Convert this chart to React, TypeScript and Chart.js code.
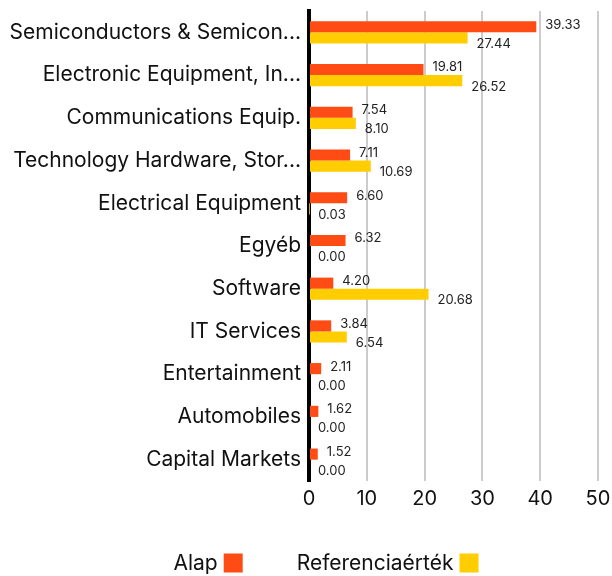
import React, { useEffect, useRef } from "react";
import { Chart, registerables } from "chart.js";

Chart.register(...registerables);

const categories = [
  "Semiconductors & Semicon...",
  "Electronic Equipment, In...",
  "Communications Equip.",
  "Technology Hardware, Stor...",
  "Electrical Equipment",
  "Egyéb",
  "Software",
  "IT Services",
  "Entertainment",
  "Automobiles",
  "Capital Markets",
];
const alapValues = [39.33, 19.81, 7.54, 7.11, 6.6, 6.32, 4.2, 3.84, 2.11, 1.62, 1.52];
const refValues = [27.44, 26.52, 8.1, 10.69, 0.03, 0.0, 20.68, 6.54, 0.0, 0.0, 0.0];
const seriesNames = ["Alap", "Referenciaérték"];
const seriesColors = ["#FF4B14", "#FFCD00"];
const xTicks = [0, 10, 20, 30, 40, 50];

const FONT = "Inter, 'Noto Sans', sans-serif";

const labelPlugin = {
  id: "barLabels",
  afterDatasetsDraw(chart: any) {
    const ctx = chart.ctx;
    ctx.save();
    ctx.font = `13px ${FONT}`;
    ctx.fillStyle = "#222";
    ctx.textAlign = "left";
    ctx.textBaseline = "middle";
    chart.data.datasets.forEach((ds: any, di: number) => {
      const meta = chart.getDatasetMeta(di);
      meta.data.forEach((bar: any, i: number) => {
        const v = ds.data[i];
        const dy = di === 0 ? -2 : 6;
        ctx.fillText(v.toFixed(2), bar.x + 9, bar.y + dy);
      });
    });
    ctx.restore();
  },
};

const legendPlugin = {
  id: "customLegend",
  afterDraw(chart: any) {
    const ctx = chart.ctx;
    ctx.save();
    ctx.font = `21px ${FONT}`;
    ctx.fillStyle = "#111";
    ctx.textBaseline = "middle";
    ctx.textAlign = "left";
    const y = chart.height - 12;
    const box = 19;
    const gap = 6;
    const between = 54;
    const widths = seriesNames.map((n) => ctx.measureText(n).width + gap + box);
    const total = widths.reduce((a, b) => a + b, 0) + between;
    let x = (chart.width - total) / 2 + 20;
    seriesNames.forEach((n, i) => {
      ctx.fillStyle = "#111";
      ctx.fillText(n, x, y);
      const tw = ctx.measureText(n).width;
      ctx.fillStyle = seriesColors[i];
      ctx.fillRect(x + tw + gap, y - box / 2 - 1, box, box);
      x += widths[i] + between;
    });
    ctx.restore();
  },
};

export default function App() {
  const ref = useRef<HTMLCanvasElement>(null);
  useEffect(() => {
    if (!ref.current) return;
    const chart = new Chart(ref.current, {
      type: "bar",
      data: {
        labels: categories,
        datasets: [
          { label: seriesNames[0], data: alapValues, backgroundColor: seriesColors[0] },
          { label: seriesNames[1], data: refValues, backgroundColor: seriesColors[1] },
        ],
      },
      options: {
        indexAxis: "y",
        animation: false,
        responsive: false,
        datasets: { bar: { barPercentage: 1, categoryPercentage: 0.52 } },
        layout: { padding: { top: 11, right: 14, bottom: 59, left: 4 } },
        plugins: { legend: { display: false }, tooltip: { enabled: false } },
        scales: {
          x: {
            min: 0,
            max: 50,
            afterBuildTicks: (axis: any) => {
              axis.ticks = xTicks.map((v) => ({ value: v }));
            },
            afterFit: (scale: any) => {
              scale.paddingRight = 0;
              scale.paddingLeft = 0;
            },
            grid: {
              color: (c: any) => (c.tick && c.tick.value === 0 ? "rgba(0,0,0,0)" : "#cccccc"),
              lineWidth: 2,
              drawTicks: false,
            },
            border: { display: false },
            ticks: { color: "#111", font: { family: FONT, size: 20 }, padding: 6 },
          },
          y: {
            afterFit: (scale: any) => {
              scale.paddingTop = 0;
              scale.paddingBottom = 0;
              scale.width = 305;
            },
            grid: { display: false, drawTicks: false },
            border: { display: true, color: "#000", width: 4 },
            ticks: { color: "#111", font: { family: FONT, size: 21 }, padding: 8, autoSkip: false },
          },
        },
      },
      plugins: [labelPlugin, legendPlugin],
    });
    return () => chart.destroy();
  }, []);
  return (
    <div style={{ position: "absolute", left: 0, top: 0, width: 612, height: 576 }}>
      <canvas ref={ref} width={612} height={576} />
    </div>
  );
}
